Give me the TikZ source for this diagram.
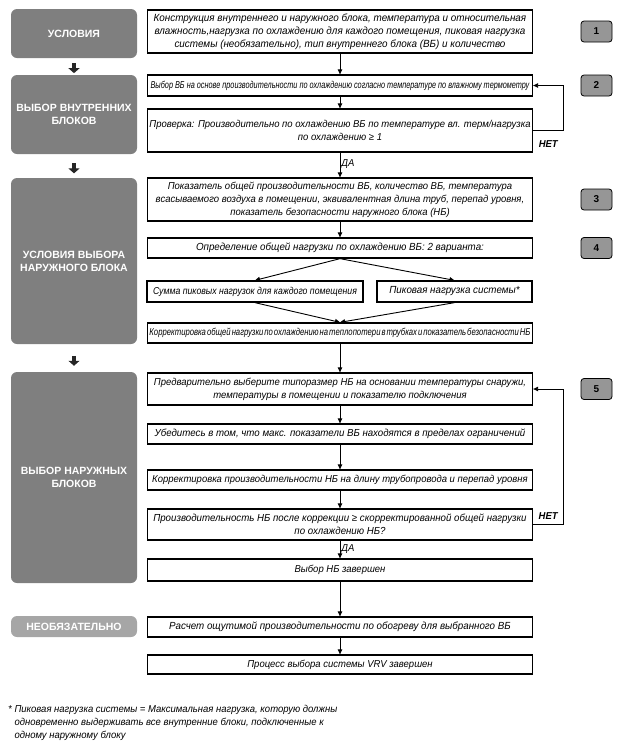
\documentclass[tikz,border=0pt]{standalone}
\usepackage{fontspec}
\setmainfont{Liberation Sans}
\newfontfamily\boxfont[FakeStretch=0.95]{Liberation Sans}
\newfontfamily\narrowfont[FakeStretch=0.87]{Liberation Sans}
\newfontfamily\squeezefont[FakeStretch=0.73]{Liberation Sans}
\newfontfamily\packedfont[FakeStretch=0.77]{Liberation Sans}
\usetikzlibrary{arrows.meta}
\usetikzlibrary{positioning}
\usetikzlibrary{calc}
\definecolor{panelgray}{HTML}{7F7F7F}
\definecolor{optgray}{HTML}{A6A6A6}
\definecolor{badgegray}{HTML}{969696}
\tikzstyle{stage}=[fill=panelgray,rounded corners=6pt,text=white,font=\bfseries\fontsize{10.5}{13}\selectfont,align=center,minimum width=126pt,inner sep=2pt]
\tikzstyle{box}=[draw,line width=1.3pt,minimum width=385pt,align=center,inner sep=2pt,font=\boxfont\itshape\fontsize{10}{13}\selectfont]
\tikzstyle{badge}=[draw,line width=0.8pt,fill=badgegray,rounded corners=3pt,minimum width=31pt,minimum height=21pt,font=\bfseries\fontsize{10}{12}\selectfont]
\tikzstyle{arr}=[line width=0.9pt,-{Triangle[length=5pt,width=4.5pt]}]
\tikzstyle{blockarr}=[line width=4pt,black!85,-{Triangle[length=5pt,width=11pt]}]
\tikzstyle{note}=[font=\boxfont\itshape\bfseries\fontsize{10}{12}\selectfont,inner sep=1pt]

\begin{document}
\begin{tikzpicture}[x=1pt,y=-1pt]
\useasboundingbox (0,0) rectangle (624,753);
\node [stage,minimum height=49pt] (p1) at (74,33.5) {УСЛОВИЯ};
\node [stage,minimum height=79pt] (p2) at (74,114.5) {ВЫБОР ВНУТРЕННИХ\\БЛОКОВ};
\node [stage,minimum height=166pt] (p3) at (74,261) {УСЛОВИЯ ВЫБОРА\\НАРУЖНОГО БЛОКА};
\node [stage,minimum height=211pt] (p4) at (74,477.5) {ВЫБОР НАРУЖНЫХ\\БЛОКОВ};
\node [stage,fill=optgray,minimum height=21pt] (p5) at (74,626.5) {НЕОБЯЗАТЕЛЬНО};

\foreach \a/\b [count=\i] in {p1/p2,p2/p3,p3/p4} {
  \coordinate (g\i) at ($(\a.south)!.6!(\b.north)$);
  \draw [blockarr] ([yshift=5pt]g\i) -- ([yshift=-5pt]g\i);
}

\node [box,minimum height=43pt,font=\boxfont\itshape\fontsize{10.4}{13}\selectfont] (b1) at (340,31.5) {Конструкция внутреннего и наружного блока, температура и относительная\\влажность,нагрузка по охлаждению для каждого помещения, пиковая нагрузка\\системы (необязательно), тип внутреннего блока (ВБ) и количество};
\node [box,minimum height=21pt,font=\squeezefont\itshape\fontsize{10}{13}\selectfont] (b2) at (340,85.5) {Выбор ВБ на основе производительности по охлаждению согласно температуре по влажному термометру};
\node [box,minimum height=43pt] (b3) at (340,130.5) {Проверка: Производительно по охлаждению ВБ по температуре вл. терм/нагрузка\\по охлаждению ≥ 1};
\node [box,minimum height=43pt] (b4) at (340,199.5) {Показатель общей производительности ВБ, количество ВБ, температура\\всасываемого воздуха в помещении, эквивалентная длина труб, перепад уровня,\\показатель безопасности наружного блока (НБ)};
\node [box,minimum height=20pt,font=\boxfont\itshape\fontsize{10.3}{13}\selectfont] (b5) at (340,248) {Определение общей нагрузки по охлаждению ВБ: 2 варианта:};
\node [box,minimum height=21pt,minimum width=216pt,font=\narrowfont\itshape\fontsize{10}{13}\selectfont] (b6a) at (255,291.5) {Сумма пиковых нагрузок для каждого помещения};
\node [box,minimum height=21pt,minimum width=155pt,font=\boxfont\itshape\fontsize{10.3}{13}\selectfont] (b6b) at (454.5,291.5) {Пиковая нагрузка системы*};
\node [box,minimum height=20pt,font={\packedfont\itshape\fontsize{10}{13}\selectfont\spaceskip=1pt plus 1pt\relax}] (b7) at (340,333) {Корректировка общей нагрузки по охлаждению на теплопотери в трубках и показатель безопасности НБ};
\node [box,minimum height=32pt] (b8) at (340,389) {Предварительно выберите типоразмер НБ на основании температуры снаружи,\\температуры в помещении и показателю подключения};
\node [box,minimum height=20pt,font=\boxfont\itshape\fontsize{10.2}{13}\selectfont] (b9) at (340,434) {Убедитесь в том, что макс. показатели ВБ находятся в пределах ограничений};
\node [box,minimum height=20pt] (b10) at (340,480) {Корректировка производительности НБ на длину трубопровода и перепад уровня};
\node [box,minimum height=31pt,font=\boxfont\itshape\fontsize{10.2}{13}\selectfont] (b11) at (340,524.5) {Производительность НБ после коррекции ≥ скорректированной общей нагрузки\\по охлаждению НБ?};
\node [box,minimum height=22pt] (b12) at (340,570) {Выбор НБ завершен};
\node [box,minimum height=20pt,font=\boxfont\itshape\fontsize{10.3}{13}\selectfont] (b13) at (340,627) {Расчет ощутимой производительности по обогреву для выбранного ВБ};
\node [box,minimum height=19pt] (b14) at (340,664.5) {Процесс выбора системы VRV завершен};

\coordinate (col) at (596.5,0);
\node [badge] (n1) at (b1 -| col) {1};
\node [badge] (n2) at (b2 -| col) {2};
\node [badge] (n3) at (b4 -| col) {3};
\node [badge] (n4) at (b5 -| col) {4};
\node [badge] (n5) at (b8 -| col) {5};

\draw [arr] (b1) -- (b2);
\draw [arr] (b2) -- (b3);
\draw [arr] (b3) -- node [note,pos=.45,right,font=\boxfont\itshape\fontsize{10}{12}\selectfont] {ДА} (b4);
\draw [arr] (b4) -- (b5);
\draw [arr] (b5.south) -- (b6a.north);
\draw [arr] (b5.south) -- (b6b.north);
\draw [arr] (b6a.south) -- (b7.north);
\draw [arr] (b6b.south) -- (b7.north);
\draw [arr] (b7) -- (b8);
\draw [arr] (b8) -- (b9);
\draw [arr] (b9) -- (b10);
\draw [arr] (b10) -- (b11);
\draw [arr] (b11) -- node [note,pos=.45,right,font=\boxfont\itshape\fontsize{10}{12}\selectfont] {ДА} (b12);
\draw [arr] (b12) -- (b13);
\draw [arr] (b13) -- (b14);
\draw [arr] (b3.east) -- ++(30,0) |- (b2.east);
\draw [arr] (b11.east) -- ++(30,0) |- (b8.east);
\node [note] (no1) at ([xshift=15pt,yshift=-14pt]b3.east) {НЕТ};
\node [note] (no2) at ([xshift=15pt,yshift=8pt]b11.east) {НЕТ};

\node [anchor=north west,align=left,inner sep=0pt,font=\boxfont\itshape\fontsize{10}{13}\selectfont] (fn) at (8,705) {*\ Пиковая нагрузка системы = Максимальная нагрузка, которую должны\\\hphantom{*\ }одновременно выдерживать все внутренние блоки, подключенные к\\\hphantom{*\ }одному наружному блоку};
\end{tikzpicture}
\end{document}
